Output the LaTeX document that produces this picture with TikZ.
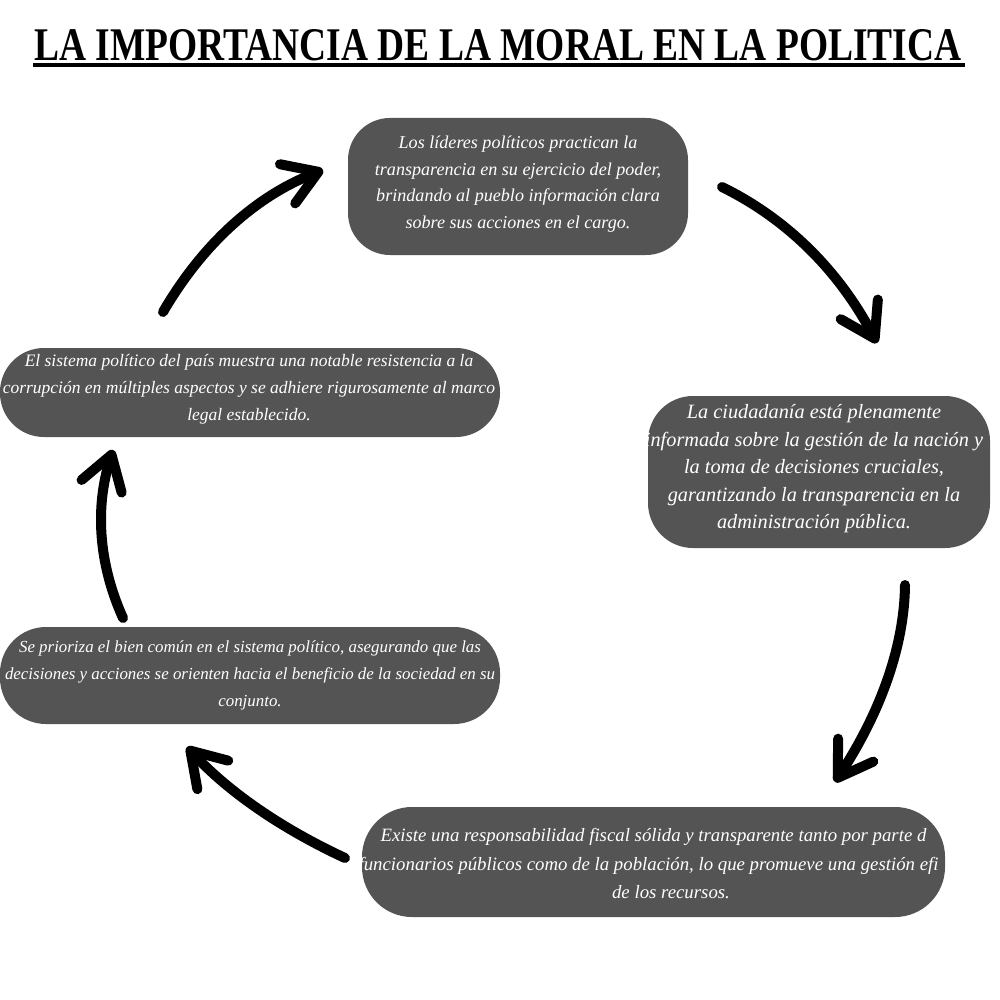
\documentclass[tikz,border=0pt]{standalone}
\usepackage{fontspec}
\newfontfamily\titlefont{Liberation Serif}
\newfontfamily\boxfont{Liberation Serif}
\usetikzlibrary{arrows.meta,calc}
\definecolor{boxgray}{RGB}{84,84,84}
\begin{document}
\begin{tikzpicture}[x=1pt,y=-1pt,
  boxfill/.style={fill=boxgray,rounded corners=#1,inner sep=0pt},
  boxfill/.default=40pt,
  boxtext/.style={text=white,align=center,inner sep=0pt},
  fs/.style 2 args={font=\boxfont\itshape\fontsize{#1}{#2}\selectfont},
  flow/.style={line width=10pt,line cap=round,line join=round,
    -{Straight Barb[length=33pt,width=42pt,line cap=round,line join=round]}}
]
\path[use as bounding box,fill=white] (0,0) rectangle (1000,1000);

% title
\node[inner sep=0pt] (title) at (498,45)
  {\resizebox{927pt}{31pt}{\titlefont\bfseries LA IMPORTANCIA DE LA MORAL EN LA POLITICA}};
\draw[line width=3.5pt] (33,65) -- (965,65);

% boxes
\node[boxfill=42pt,minimum width=340pt,minimum height=137pt] (b1) at (518,186.5) {};
\node[boxtext,fs={18.1}{26.5}] (b1t) at (518,184) {Los líderes políticos practican la\\ transparencia en su ejercicio del poder,\\ brindando al pueblo información clara\\ sobre sus acciones en el cargo.};

\node[boxfill=45pt,minimum width=342pt,minimum height=152pt] (b2) at (819,472) {};
\node[boxtext,fs={20.3}{27.5}] (b2t) at (814,469) {La ciudadanía está plenamente\\ informada sobre la gestión de la nación y\\ la toma de decisiones cruciales,\\ garantizando la transparencia en la\\ administración pública.};

\node[boxfill=44pt,minimum width=500pt,minimum height=89pt] (b3) at (250,392.5) {};
\node[boxtext,fs={17.5}{27}] (b3t) at (249,389) {El sistema político del país muestra una notable resistencia a la\\ corrupción en múltiples aspectos y se adhiere rigurosamente al marco\\ legal establecido.};

\node[boxfill=46pt,minimum width=500pt,minimum height=97pt] (b4) at (250,675.5) {};
\node[boxtext,fs={16.9}{27}] (b4t) at (250,675) {Se prioriza el bien común en el sistema político, asegurando que las\\ decisiones y acciones se orienten hacia el beneficio de la sociedad en su\\ conjunto.};

\node[boxfill=50pt,minimum width=583pt,minimum height=110pt] (b5) at (653.5,862) {};
\begin{scope}
\clip[rounded corners=50pt] (362,807) rectangle (945,917);
\node[boxtext,fs={18.8}{28.5}] (b5t) at (671,864) {Existe una responsabilidad fiscal sólida y transparente tanto por parte d\phantom{e los}\\ funcionarios públicos como de la población, lo que promueve una gestión efi\phantom{ciente}\\ de los recursos.};
\end{scope}

% arrows
\coordinate (s1) at (163,312); \coordinate (q1) at (223,209); \coordinate (e1) at (323,170);
\coordinate (s2) at (722,187); \coordinate (q2) at (820,235); \coordinate (e2) at (877,343);
\coordinate (s3) at (905,585); \coordinate (q3) at (904,676); \coordinate (e3) at (835,782);
\coordinate (s4) at (345,858); \coordinate (q4) at (248,813); \coordinate (e4) at (187,747);
\coordinate (s5) at (123,618); \coordinate (q5) at (86,536); \coordinate (e5) at (113,450);
\foreach \i in {1,...,5}{
  \draw[flow] (s\i) .. controls ($(s\i)!2/3!(q\i)$) and ($(e\i)!2/3!(q\i)$) .. (e\i);
}
\end{tikzpicture}
\end{document}
